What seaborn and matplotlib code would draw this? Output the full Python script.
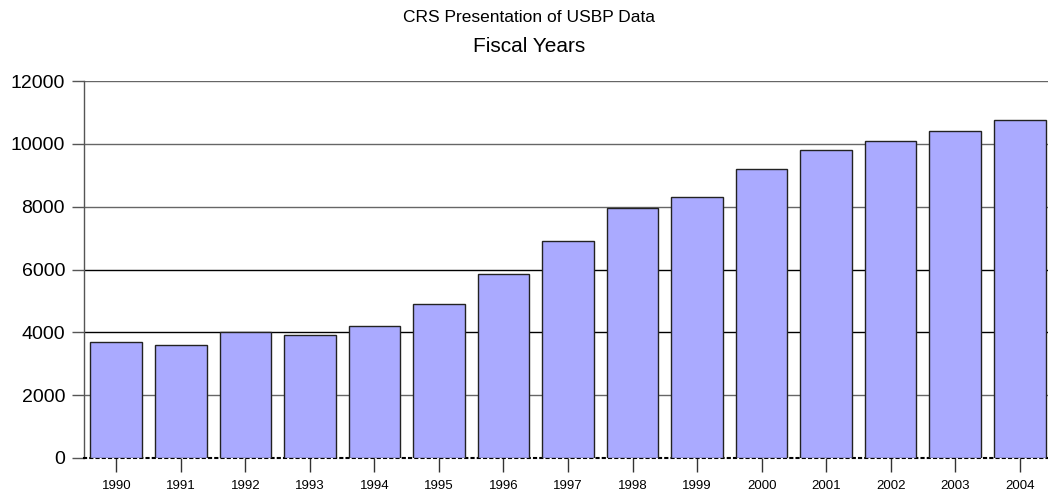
import matplotlib
matplotlib.use("Agg")
import matplotlib.pyplot as plt
import seaborn as sns
import pandas as pd

# data
years = ["1990", "1991", "1992", "1993", "1994", "1995", "1996", "1997",
         "1998", "1999", "2000", "2001", "2002", "2003", "2004"]
agents = [3680, 3590, 4020, 3930, 4190, 4890, 5870, 6910,
          7970, 8310, 9210, 9810, 10080, 10420, 10770]
y_ticks = [0, 2000, 4000, 6000, 8000, 10000, 12000]

df = pd.DataFrame({"Year": years, "Agents": agents})

sns.set_theme(style="white")
plt.rcParams["font.family"] = ["Liberation Sans", "DejaVu Sans"]
plt.rcParams["text.color"] = "black"
plt.rcParams["xtick.labelcolor"] = "black"
plt.rcParams["ytick.labelcolor"] = "black"

fig = plt.figure(figsize=(10.48, 4.93), dpi=100)
fig.patch.set_facecolor("white")
# axes runs a bit past the right edge, like the reference
ax = fig.add_axes([84 / 1048, (493 - 458) / 493, 968 / 1048, 377 / 493])

sns.barplot(data=df, x="Year", y="Agents", color="#aaaaff", saturation=1,
            width=0.8, edgecolor="#222222", linewidth=1, ax=ax, zorder=3)

ax.set_ylim(0, 12000)
ax.set_xlim(-0.5, len(years) - 0.5)
ax.set_yticks(y_ticks)
ax.set_yticklabels([str(v) for v in y_ticks], fontsize=14)
ax.tick_params(axis="x", bottom=True, labelsize=9.5, length=10, width=1,
               color="#333333", labelcolor="black", direction="out", pad=6)
ax.tick_params(axis="y", left=True, length=8.6, width=1, color="#555555",
               labelcolor="black", direction="out", pad=5)
ax.set_xlabel("")
ax.set_ylabel("")

# horizontal grid lines
for v in y_ticks[1:]:
    c = "#000000" if v in (4000, 6000) else "#666666"
    ax.axhline(v, color=c, linewidth=1, zorder=1)

for s in ["top", "right"]:
    ax.spines[s].set_visible(False)
ax.spines["left"].set_color("#555555")
ax.spines["left"].set_linewidth(1)
ax.spines["bottom"].set_color("#000000")
ax.spines["bottom"].set_linestyle((0, (1, 2)))
ax.spines["bottom"].set_linewidth(1.5)

fig.text(529 / 1048, 1 - 17 / 493, "CRS Presentation of USBP Data",
         ha="center", va="center", fontsize=12.5, color="black")
fig.text(529 / 1048, 1 - 47 / 493, "Fiscal Years",
         ha="center", va="center", fontsize=15, color="black")

fig.savefig("out.png", dpi=100, facecolor="white")
